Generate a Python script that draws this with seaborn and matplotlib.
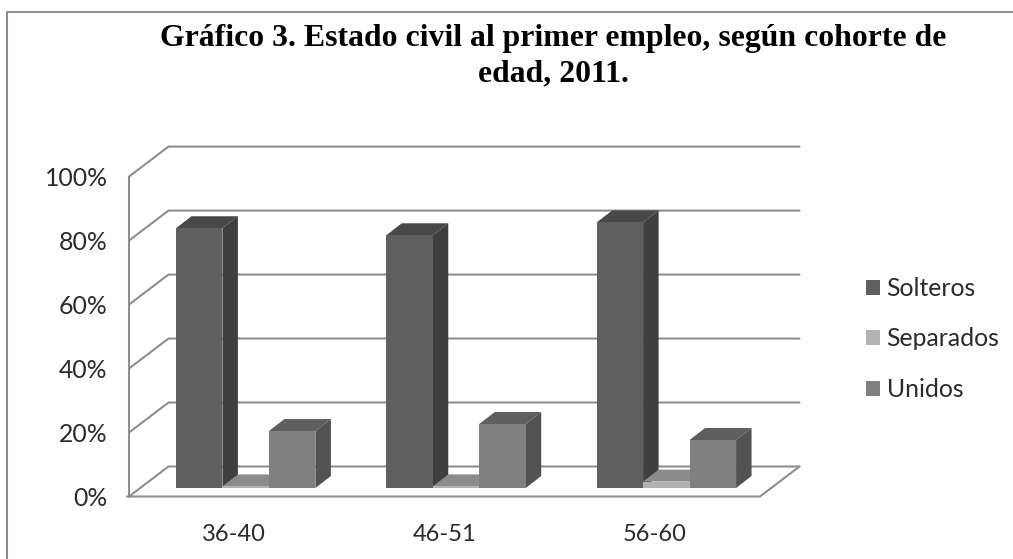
import matplotlib
matplotlib.use("Agg")
import matplotlib.pyplot as plt
import seaborn as sns
import pandas as pd
from matplotlib.patches import Polygon, Rectangle
from matplotlib.transforms import IdentityTransform

# Data
cohorts = ["36-40", "46-51", "56-60"]
estados = ["Solteros", "Separados", "Unidos"]
solteros = [81.2, 79, 83]
separados = [0.5, 0.5, 2]
unidos = [17.8, 20, 15]
y_ticks = [0, 20, 40, 60, 80, 100]

W, H = 1013, 559
# pixel layout of the fake 3D box
AX_L, AX_R, AX_T, AX_B = 129, 760, 176.6, 496.5
WALL_DX, WALL_DY = 39.5, 30
BAR_DX, BAR_DY = 11.5, 8.5
SIDE_DX, SIDE_DY = 15.5, 12

front = ["#5f5f5f", "#b2b2b2", "#808080"]
top = ["#484848", "#8c8c8c", "#5e5e5e"]
side = ["#3f3f3f", "#7f7f7f", "#525252"]
GRID = "#8e8e8e"
TEXT = "#2b2b2b"

df = pd.DataFrame({"cohorte": cohorts, "Solteros": solteros, "Separados": separados, "Unidos": unidos})
df = df.melt(id_vars="cohorte", var_name="estado", value_name="pct")

sns.set_theme(style="white")
plt.rcParams["font.family"] = ["Lato", "DejaVu Sans"]

fig = plt.figure(figsize=(W / 100, H / 100), dpi=100)
ax = fig.add_axes([AX_L / W, 1 - AX_B / H, (AX_R - AX_L) / W, (AX_B - AX_T) / H])
ax.patch.set_alpha(0)

sns.barplot(data=df, x="cohorte", y="pct", hue="estado", hue_order=estados, order=cohorts,
            palette=front, width=0.663, gap=0, saturation=1, ax=ax, legend=False, zorder=5)
ax.set_xlim(-0.5, 2.5)
ax.set_ylim(0, 100)
ax.set_xlabel("")
ax.set_ylabel("")
ax.set_yticks(y_ticks)
ax.set_yticklabels([f"{v}%" for v in y_ticks], fontsize=17.8, color=TEXT)
ax.tick_params(axis="x", length=0, pad=20, labelsize=17, labelcolor=TEXT)
ax.tick_params(axis="y", length=0, pad=15.5)
sns.despine(ax=ax, top=True, right=True, left=True, bottom=True)

to_px = ax.transData.transform
pix = IdentityTransform()

# walls and floor
for v in y_ticks:
    x0, y0 = to_px((-0.5, v))
    x1, y1 = to_px((2.5, v))
    ax.plot([x0, x0 + WALL_DX, x1 + WALL_DX], [y0, y0 + WALL_DY, y1 + WALL_DY], color=GRID, lw=1.5,
            transform=pix, clip_on=False, zorder=1, solid_joinstyle="miter")
x0, y0 = to_px((-0.5, 0))
x1, y1 = to_px((2.5, 0))
ax.plot([x0 - 2, x1, x1 + WALL_DX], [y0, y1, y1 + WALL_DY], color=GRID, lw=1.5,
        transform=pix, clip_on=False, zorder=1, solid_joinstyle="miter")
x0, y_top = to_px((-0.5, 100))
ax.plot([x0, x0], [y0, y_top], color=GRID, lw=1.5, transform=pix, clip_on=False, zorder=1)

# bars get pushed into the box, depth faces added from each bar's own size
bars = [p for p in ax.patches if isinstance(p, Rectangle)]
n_cat = len(cohorts)
for j in range(len(estados)):
    for i in range(n_cat):
        p = bars[j * n_cat + i]
        (bx0, by0) = to_px((p.get_x(), 0))
        (bx1, by1) = to_px((p.get_x() + p.get_width(), p.get_height()))
        bx0 += BAR_DX
        bx1 += BAR_DX
        by0 += BAR_DY
        by1 += BAR_DY
        order = 3 + i * 3 + j
        p.set_visible(False)
        ax.add_patch(Polygon([(bx0, by0), (bx1, by0), (bx1, by1), (bx0, by1)], closed=True,
                             facecolor=front[j], edgecolor="none", transform=pix, clip_on=False, zorder=order + 0.2))
        ax.add_patch(Polygon([(bx0, by1), (bx1, by1), (bx1 + SIDE_DX, by1 + SIDE_DY), (bx0 + SIDE_DX, by1 + SIDE_DY)],
                             closed=True, facecolor=top[j], edgecolor="none", transform=pix, clip_on=False, zorder=order))
        ax.add_patch(Polygon([(bx1, by0), (bx1 + SIDE_DX, by0 + SIDE_DY), (bx1 + SIDE_DX, by1 + SIDE_DY), (bx1, by1)],
                             closed=True, facecolor=side[j], edgecolor="none", transform=pix, clip_on=False, zorder=order))

# legend
handles = [Rectangle((0, 0), 1, 1, facecolor=c, edgecolor="none") for c in front]
fig.legend(handles, estados, loc="center left", bbox_to_anchor=(866 / W, 1 - 339 / H), frameon=False,
           fontsize=17.8, labelcolor=TEXT, handlelength=0.55, handleheight=0.55, handletextpad=0.28,
           labelspacing=1.12, borderpad=0, borderaxespad=0)

# title
fig.text(553 / W, 1 - 56 / H, "Gráfico 3. Estado civil al primer empleo, según cohorte de\nedad, 2011.",
         ha="center", va="center", fontsize=22.9, fontweight="bold", family=["Liberation Serif"], color="black",
         linespacing=1.3)

# chart border, only top and left are inside the picture
fig.add_artist(plt.Line2D([7 / W, 7 / W, 1], [0, 1 - 12 / H, 1 - 12 / H], color=GRID, lw=1.5,
                          solid_joinstyle="miter"))

fig.savefig("out.png", dpi=100)
